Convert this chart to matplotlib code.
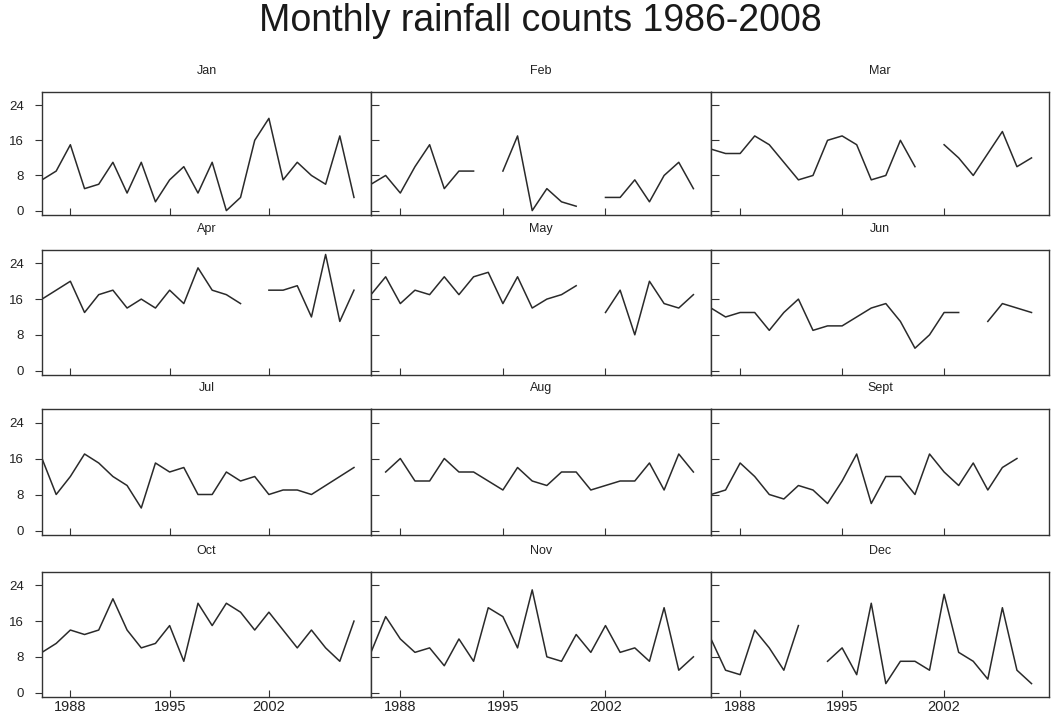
import numpy as np
import matplotlib
matplotlib.use("Agg")
import matplotlib.pyplot as plt

plt.rcParams['font.family'] = ['Liberation Sans', 'DejaVu Sans']

years = list(range(1986, 2009))
nan = np.nan

jan = [7, 9, 15, 5, 6, 11, 4, 11, 2, 7, 10, 4, 11, 0, 3, 16, 21, 7, 11, 8, 6, 17, 3]
feb = [6, 8, 4, 10, 15, 5, 9, 9, nan, 9, 17, 0, 5, 2, 1, nan, 3, 3, 7, 2, 8, 11, 5]
mar = [14, 13, 13, 17, 15, 11, 7, 8, 16, 17, 15, 7, 8, 16, 10, nan, 15, 12, 8, 13, 18, 10, 12]
apr = [16, 18, 20, 13, 17, 18, 14, 16, 14, 18, 15, 23, 18, 17, 15, nan, 18, 18, 19, 12, 26, 11, 18]
may = [17, 21, 15, 18, 17, 21, 17, 21, 22, 15, 21, 14, 16, 17, 19, nan, 13, 18, 8, 20, 15, 14, 17]
jun = [14, 12, 13, 13, 9, 13, 16, 9, 10, 10, 12, 14, 15, 11, 5, 8, 13, 13, nan, 11, 15, 14, 13]
jul = [16, 8, 12, 17, 15, 12, 10, 5, 15, 13, 14, 8, 8, 13, 11, 12, 8, 9, 9, 8, 10, 12, 14]
aug = [nan, 13, 16, 11, 11, 16, 13, 13, 11, 9, 14, 11, 10, 13, 13, 9, 10, 11, 11, 15, 9, 17, 13]
sep = [8, 9, 15, 12, 8, 7, 10, 9, 6, 11, 17, 6, 12, 12, 8, 17, 13, 10, 15, 9, 14, 16, nan]
oct_ = [9, 11, 14, 13, 14, 21, 14, 10, 11, 15, 7, 20, 15, 20, 18, 14, 18, 14, 10, 14, 10, 7, 16]
nov = [9, 17, 12, 9, 10, 6, 12, 7, 19, 17, 10, 23, 8, 7, 13, 9, 15, 9, 10, 7, 19, 5, 8]
dec = [12, 5, 4, 14, 10, 5, 15, nan, 7, 10, 4, 20, 2, 7, 7, 5, 22, 9, 7, 3, 19, 5, 2]

months = ["Jan", "Feb", "Mar", "Apr", "May", "Jun", "Jul", "Aug", "Sept", "Oct", "Nov", "Dec"]
series = [jan, feb, mar, apr, may, jun, jul, aug, sep, oct_, nov, dec]
yticks = [0, 8, 16, 24]
xticks = [1988, 1995, 2002]

W, H = 1058, 715
fig = plt.figure(figsize=(W / 100, H / 100), dpi=100)
fig.patch.set_facecolor("white")

rows = [(92, 215), (250, 375), (409, 535), (572, 697)]
cols = [(42, 371), (371, 711), (711, 1049)]

for i, (name, vals) in enumerate(zip(months, series)):
    r, c = divmod(i, 3)
    top, bot = rows[r]
    left, right = cols[c]
    ax = fig.add_axes([left / W, 1 - bot / H, (right - left) / W, (bot - top) / H])
    ax.plot(years, vals, color="#2a2a2a", lw=1.1)
    ax.set_xlim(1986, 2009.2)
    ax.set_ylim(-1, 27)
    ax.set_yticks(yticks)
    ax.set_xticks(xticks)
    ax.set_title(name, fontsize=9, pad=13, color="#222222")
    for s in ax.spines.values():
        s.set_color("#333333")
        s.set_linewidth(1.0)
    ax.tick_params(axis="x", direction="in", length=5, color="#333333",
                   labelsize=10.5, pad=2, labelcolor="#222222")
    if c == 0:
        ax.tick_params(axis="y", direction="out", length=5, color="#333333",
                       labelsize=9.5, labelcolor="#222222", pad=8)
    else:
        ax.tick_params(axis="y", direction="in", length=6, color="#333333",
                       labelleft=False)
    if r != 3:
        ax.tick_params(axis="x", labelbottom=False)

fig.text(0.511, 1 - 21 / H, "Monthly rainfall counts 1986-2008", ha="center", va="center",
         fontsize=27, color="#1a1a1a")

fig.savefig("out.png", dpi=100)
